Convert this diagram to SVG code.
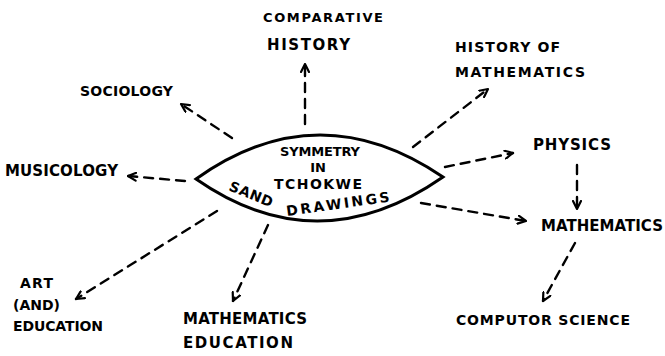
<svg xmlns="http://www.w3.org/2000/svg" width="665" height="356" viewBox="0 0 665 356">
<style>
text{font-family:"DejaVu Sans","Liberation Sans",sans-serif;font-weight:bold;fill:#000}
.c{fill:none;stroke:#000;stroke-width:2.4;stroke-dasharray:9 7;stroke-linecap:round}
</style>
<defs>
<marker id="a" viewBox="0 0 10 10" refX="9" refY="5" markerWidth="10" markerHeight="10" markerUnits="userSpaceOnUse" orient="auto">
<path d="M1,1 L9,5 L1,9" fill="none" stroke="#000" stroke-width="2.2" stroke-linecap="round" stroke-linejoin="round"/>
</marker>
</defs>
<rect width="665" height="356" fill="#fff"/>
<g id="connectors">
<path class="c" d="M305,124 L305,64" marker-end="url(#a)"/>
<path class="c" d="M232,138 L181,104" marker-end="url(#a)"/>
<path class="c" d="M185,181 L128,176" marker-end="url(#a)"/>
<path class="c" d="M413,147 L488,89" marker-end="url(#a)"/>
<path class="c" d="M445,167 L513,153" marker-end="url(#a)"/>
<path class="c" d="M577,165 L577,209" marker-end="url(#a)"/>
<path class="c" d="M421,203 L526,221" marker-end="url(#a)"/>
<path class="c" d="M575,243 L543,301" marker-end="url(#a)"/>
<path class="c" d="M217,211 L76,299" marker-end="url(#a)"/>
<path class="c" d="M268,225 L233,301" marker-end="url(#a)"/>
</g>
<g id="center">
<path d="M196,179 Q318,92 443,177 Q318,264 196,179 Z" fill="none" stroke="#000" stroke-width="3"/>
<text x="320" y="156" font-size="13" text-anchor="middle" textLength="80" lengthAdjust="spacing">SYMMETRY</text>
<text x="318" y="172" font-size="13" text-anchor="middle">IN</text>
<text x="318" y="189" font-size="14" text-anchor="middle" textLength="88" lengthAdjust="spacing">TCHOKWE</text>
<text x="228" y="190" font-size="14" transform="rotate(22 228 190)" textLength="46" lengthAdjust="spacing">SAND</text>
<text x="287" y="216" font-size="14" transform="rotate(-8 287 216)" textLength="104" lengthAdjust="spacing">DRAWINGS</text>
</g>
<g id="comparative-history">
<text x="263" y="22" font-size="13" textLength="120" lengthAdjust="spacing">COMPARATIVE</text>
<text x="267" y="50" font-size="15" textLength="83" lengthAdjust="spacing">HISTORY</text>
</g>
<g id="sociology">
<text x="80" y="96" font-size="14" textLength="93" lengthAdjust="spacing">SOCIOLOGY</text>
</g>
<g id="musicology">
<text x="5" y="176" font-size="15" textLength="113" lengthAdjust="spacing">MUSICOLOGY</text>
</g>
<g id="history-of-mathematics">
<text x="455" y="52" font-size="14" textLength="105" lengthAdjust="spacing">HISTORY OF</text>
<text x="455" y="77" font-size="14" textLength="130" lengthAdjust="spacing">MATHEMATICS</text>
</g>
<g id="physics">
<text x="533" y="150" font-size="15" textLength="78" lengthAdjust="spacing">PHYSICS</text>
</g>
<g id="mathematics">
<text x="541" y="231" font-size="15" textLength="122" lengthAdjust="spacing">MATHEMATICS</text>
</g>
<g id="computer-science">
<text x="456" y="325" font-size="14" textLength="174" lengthAdjust="spacing">COMPUTOR SCIENCE</text>
</g>
<g id="art-education">
<text x="20" y="288" font-size="14" textLength="33" lengthAdjust="spacing">ART</text>
<text x="13" y="310" font-size="14" textLength="47" lengthAdjust="spacing">(AND)</text>
<text x="13" y="331" font-size="14" textLength="90" lengthAdjust="spacing">EDUCATION</text>
</g>
<g id="mathematics-education">
<text x="183" y="324" font-size="15" textLength="124" lengthAdjust="spacing">MATHEMATICS</text>
<text x="183" y="348" font-size="15" textLength="110" lengthAdjust="spacing">EDUCATION</text>
</g>
</svg>
